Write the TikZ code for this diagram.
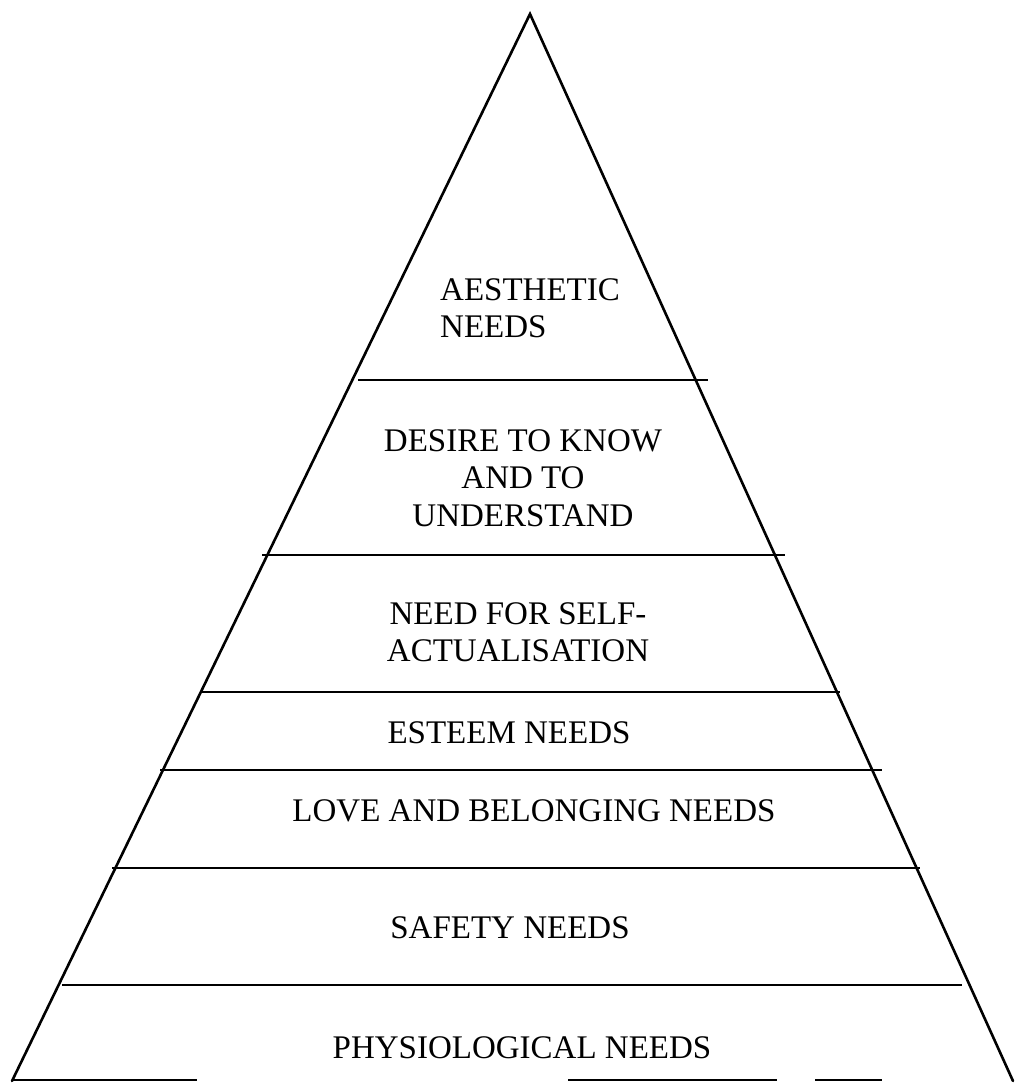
\documentclass[tikz,border=0pt]{standalone}
\usepackage{fontspec}
\setmainfont{Liberation Serif}
\begin{document}
\begin{tikzpicture}[x=1pt,y=-1pt,
  edge/.style={line width=2.6pt,line cap=round,line join=miter},
  band/.style={line width=2.4pt},
  lbl/.style={font=\fontsize{33}{37.5}\selectfont,inner sep=0pt,align=center}]
\useasboundingbox (0,0) rectangle (1014,1083);
\fill[white] (0,0) rectangle (1014,1083);
% apex and base corners
\coordinate (apex) at (530,14);
\coordinate (bl) at (12,1081);
\coordinate (br) at (1013,1081);
\draw[edge] (bl) -- (apex) -- (br);
% horizontal divisions
\draw[band] (358,380) -- (708,380);
\draw[band] (262,555) -- (785,555);
\draw[band] (200,692) -- (840,692);
\draw[band] (160,770) -- (882,770);
\draw[band] (112,868) -- (920,868);
\draw[band] (62,985) -- (962,985);
% broken base line
\draw[band] (12,1080) -- (197,1080);
\draw[band] (568,1080) -- (777,1080);
\draw[band] (815,1080) -- (882,1080);
% labels
\node[lbl,align=left,anchor=west] (aes) at (440,308) {AESTHETIC\\NEEDS};
\node[lbl] (des) at (523,478) {DESIRE TO KNOW\\AND TO\\UNDERSTAND};
\node[lbl] (self) at (518,632) {NEED FOR SELF-\\ACTUALISATION};
\node[lbl] (est) at (509,733) {ESTEEM NEEDS};
\node[lbl] (love) at (534,811) {LOVE AND BELONGING NEEDS};
\node[lbl] (saf) at (510,928) {SAFETY NEEDS};
\node[lbl] (phy) at (522,1048) {PHYSIOLOGICAL NEEDS};
\end{tikzpicture}
\end{document}
